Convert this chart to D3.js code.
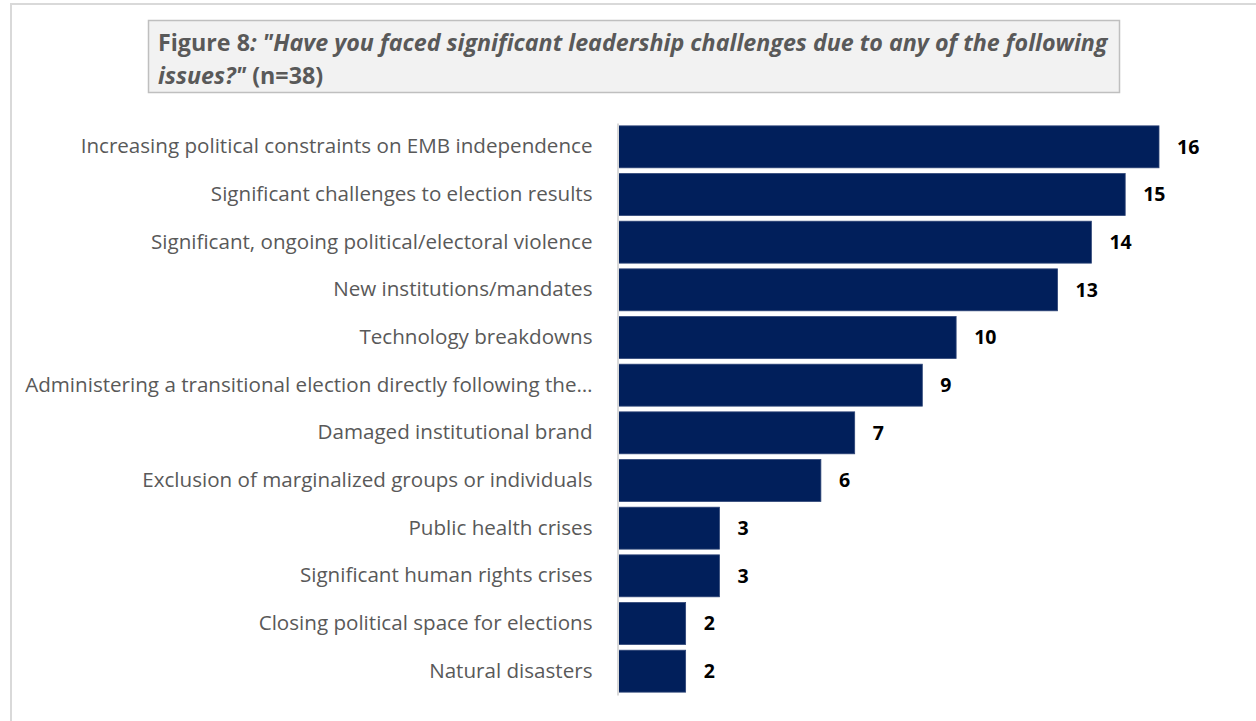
<!DOCTYPE html>
<html>
<head>
<meta charset="utf-8">
<script src="https://cdn.jsdelivr.net/npm/d3@7"></script>
<style>
  html, body { margin: 0; padding: 0; background: #fff; }
  svg { display: block; font-family: "Open Sans", sans-serif; }
</style>
</head>
<body>
<div id="chart"></div>
<script>
const categories = [
    "Increasing political constraints on EMB independence",
    "Significant challenges to election results",
    "Significant, ongoing political/electoral violence",
    "New institutions/mandates",
    "Technology breakdowns",
    "Administering a transitional election directly following the\u2026",
    "Damaged institutional brand",
    "Exclusion of marginalized groups or individuals",
    "Public health crises",
    "Significant human rights crises",
    "Closing political space for elections",
    "Natural disasters"
];
const counts = [16, 15, 14, 13, 10, 9, 7, 6, 3, 3, 2, 2];

const titleLine1 = [
    { text: "Figure 8", italic: false },
    { text: ": \"Have you faced significant leadership challenges due to any of the following", italic: true }
];
const titleLine2 = [
    { text: "issues?\"", italic: true },
    { text: " (n=38)", italic: false }
];

const width = 1256;
const height = 721;

const svg = d3.select("#chart")
    .append("svg")
    .attr("width", width)
    .attr("height", height);

// outer frame (only left and top edges are visible)
svg.append("rect")
    .attr("x", 11)
    .attr("y", 4)
    .attr("width", 1400)
    .attr("height", 900)
    .attr("fill", "none")
    .attr("stroke", "#d9d9d9")
    .attr("stroke-width", 2);

// title box
svg.append("rect")
    .attr("x", 148.5)
    .attr("y", 20.5)
    .attr("width", 971)
    .attr("height", 72)
    .attr("fill", "#f2f2f2")
    .attr("stroke", "#bfbfbf")
    .attr("stroke-width", 1.5);

function drawTitleLine(parts, baseline) {
    const g = svg.append("g").attr("transform", `translate(158, ${baseline})`);
    const t = g.append("text")
        .attr("x", 0)
        .attr("y", 0)
        .attr("fill", "#595959")
        .attr("font-weight", "bold")
        .attr("font-size", 23);
    parts.forEach(p => {
        t.append("tspan")
            .attr("font-style", p.italic ? "italic" : "normal")
            .text(p.text);
    });
    return { g, t };
}

const l1 = drawTitleLine(titleLine1, 51);
const l2 = drawTitleLine(titleLine2, 84);
// squeeze the title horizontally so the first line fits the box like the original
const sx = 950 / l1.t.node().getComputedTextLength();
l1.g.attr("transform", `translate(158, 51) scale(${sx}, 1)`);
l2.g.attr("transform", `translate(158, 84) scale(${sx}, 1)`);

const x = d3.scaleLinear()
    .domain([0, 16])
    .range([618, 1159]);

const y = d3.scaleBand()
    .domain(categories)
    .range([123, 695])
    .paddingInner(0.12)
    .paddingOuter(0.06);

// bars
svg.append("g")
    .selectAll("rect")
    .data(categories)
    .join("rect")
    .attr("x", x(0))
    .attr("y", d => y(d))
    .attr("width", (d, i) => x(counts[i]) - x(0))
    .attr("height", y.bandwidth())
    .attr("fill", "#011f5b")
    .attr("stroke", "#2e4577")
    .attr("stroke-width", 0.8);

// category axis
const yAxis = d3.axisLeft(y).tickSize(0).tickPadding(25);
const axisG = svg.append("g")
    .attr("transform", `translate(${x(0) - 0.5}, 0)`)
    .call(yAxis);
axisG.select(".domain")
    .attr("stroke", "#d9d9d9")
    .attr("stroke-width", 2);
axisG.selectAll("text")
    .attr("fill", "#595959")
    .attr("font-size", 20.6)
    .attr("font-family", "\"Open Sans\", sans-serif");

// value labels
svg.append("g")
    .selectAll("text")
    .data(categories)
    .join("text")
    .attr("x", (d, i) => x(counts[i]) + 18)
    .attr("y", d => y(d) + y.bandwidth() / 2)
    .attr("dy", "0.35em")
    .attr("font-size", 19.5)
    .attr("font-weight", "bold")
    .attr("fill", "#000")
    .text((d, i) => counts[i]);
</script>
</body>
</html>
